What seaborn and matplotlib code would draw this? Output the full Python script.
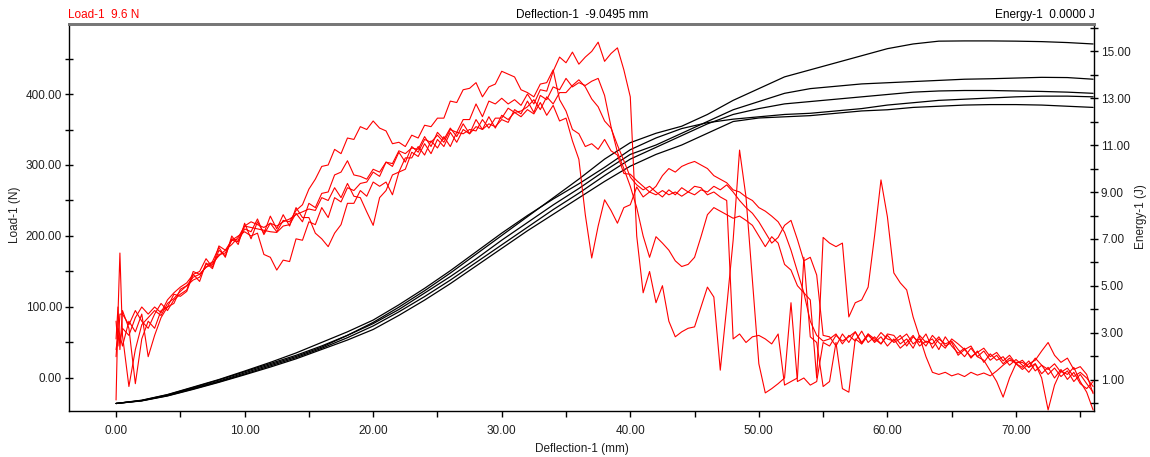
import numpy as np
import pandas as pd
import matplotlib
matplotlib.use("Agg")
import matplotlib.pyplot as plt
from matplotlib.ticker import MultipleLocator, FormatStrFormatter
import seaborn as sns

# ---------------- data ----------------
# deflection grid for the load traces (mm)
DEFL_START = [0.0, 0.15, 0.3]
DEFL_STEP = 0.5
DEFL_END = 76.0

LOAD_1 = [-31, 90, 176,
          60, -12, 40, 75, 85, 95, 88, 105, 112, 122,
          130, 142, 146, 156, 160, 174, 176, 194, 192, 210,
          206, 224, 202, 218, 206, 222, 220, 236, 244, 266,
          280, 298, 300, 322, 316, 338, 336, 354, 350, 362,
          352, 348, 330, 332, 326, 342, 338, 356, 354, 366,
          366, 390, 388, 406, 408, 416, 396, 410, 414, 432,
          428, 424, 406, 402, 396, 414, 416, 434, 392, 376,
          350, 344, 326, 330, 322, 336, 320, 314, 288, 287,
          278, 270, 262, 258, 264, 258, 262, 256, 262, 258,
          265, 262, 270, 265, 272, 262, 250, 240, 232, 220,
          205, 190, 198, 215, 222, 195, 165, 170, 145, 60,
          58, 45, 62, 50, 65, 48, 60, 52, 64, 55,
          52, 60, 45, 58, 50, 62, 42, 55, 48, 52,
          40, 30, 42, 30, 38, 25, 32, 20, 28, 20,
          15, 24, 10, 18, 5, 14, 2, 10, -5, 5,
          -8, -20]

LOAD_2 = [55, 100, 40,
          95, 70, -8, 55, 80, 70, 95, 100, 118, 115,
          122, 146, 136, 162, 154, 180, 172, 196, 194, 214,
          212, 210, 208, 206, 205, 214, 216, 232, 220, 246,
          240, 260, 262, 286, 290, 306, 286, 284, 280, 294,
          290, 304, 302, 320, 316, 324, 322, 340, 326, 346,
          336, 352, 340, 358, 344, 364, 350, 368, 352, 370,
          364, 374, 368, 378, 372, 388, 370, 384, 362, 366,
          334, 308, 230, 169, 214, 251, 236, 218, 240, 244,
          269, 255, 262, 270, 285, 295, 290, 298, 302, 305,
          300, 295, 285, 280, 275, 265, 262, 255, 250, 240,
          235, 228, 220, 205, 180, 150, 120, 80, 60, 52,
          55, 62, 48, 60, 52, 66, 50, 58, 48, 62,
          60, 48, 55, 42, 60, 50, 55, 40, 58, 45,
          35, 42, 28, 38, 22, 34, 25, 30, 18, 26,
          18, 8, 20, 6, 15, 0, 12, -2, 8, -8,
          -15, -5]

LOAD_3 = [30, 70, 60,
          45, 80, 65, 90, 30, 60, 85, 100, 105, 125,
          130, 138, 142, 160, 162, 172, 180, 194, 200, 206,
          200, 204, 174, 170, 152, 166, 164, 196, 194, 220,
          216, 240, 226, 254, 248, 268, 264, 274, 276, 290,
          284, 304, 298, 318, 304, 326, 318, 336, 332, 342,
          332, 350, 346, 364, 364, 386, 368, 390, 386, 394,
          386, 392, 384, 400, 386, 406, 404, 432, 452, 444,
          459, 442, 452, 460, 473, 446, 457, 465, 434, 396,
          200, 120, 150, 106, 130, 80, 58, 65, 70, 72,
          100, 128, 114, 11, 100, 194, 321, 255, 138, 20,
          -21, -15, -8, 0, 106, -5, 0, -10, -5, 50,
          45, 60, 52, 58, 65, 50, 62, 55, 48, 60,
          50, 55, 62, 48, 55, 45, 60, 50, 42, 55,
          48, 40, 45, 30, 25, 10, -5, -27, 0, 20,
          25, 15, 20, 0, -45, -10, 10, 5, 15, -5,
          -20, -45]

LOAD_4 = [80, 45, 90,
          90, 75, 95, 80, 70, 90, 105, 95, 110, 118,
          124, 150, 146, 156, 164, 184, 170, 200, 188, 218,
          196, 220, 204, 228, 210, 230, 214, 240, 226, 226,
          204, 196, 185, 204, 216, 246, 246, 264, 256, 276,
          270, 276, 258, 290, 294, 318, 312, 330, 316, 336,
          326, 346, 332, 350, 344, 354, 350, 358, 354, 364,
          360, 378, 372, 390, 374, 398, 392, 410, 406, 422,
          410, 416, 412, 418, 422, 398, 354, 318, 295, 270,
          240, 200, 170, 199, 190, 180, 165, 157, 160, 170,
          199, 230, 240, 235, 230, 225, 228, 222, 215, 200,
          185, 199, 190, 160, 152, 130, 120, 110, 0, 198,
          190, 185, 190, 86, 106, 110, 128, 200, 279, 227,
          148, 134, 124, 86, 58, 30, 8, 5, 8, 3,
          6, 2, 8, 4, 7, 3, 10, 18, 25, 22,
          22, 15, 28, 18, 12, 20, 8, 14, 2, 8,
          0, -12]

LOAD_5 = [40, 60, 50,
          70, 60, 85, 100, 90, 100, 92, 110, 120, 128,
          134, 146, 150, 168, 156, 186, 180, 188, 198, 214,
          220, 216, 212, 218, 214, 220, 224, 230, 234, 238,
          236, 254, 250, 268, 254, 274, 256, 254, 234, 215,
          254, 264, 286, 290, 310, 310, 326, 314, 334, 324,
          340, 326, 346, 344, 350, 348, 364, 352, 366, 366,
          380, 374, 376, 382, 392, 378, 396, 386, 402, 402,
          412, 420, 410, 393, 382, 362, 352, 328, 306, 283,
          272, 265, 270, 262, 255, 265, 258, 268, 262, 270,
          268, 258, 262, 255, 250, 55, 62, 50, 58, 60,
          55, 48, 62, -10, -5, 0, 170, 58, 50, -12,
          -5, 50, -15, -20, 55, 48, 62, 50, 58, 45,
          55, 42, 50, 60, 45, 52, 48, 58, 45, 50,
          32, 40, 30, 36, 42, 30, 36, 24, 32, 20,
          12, 20, 25, 38, 50, 32, 22, 28, 12, 16,
          5, -22]

# energy traces, sampled every 2 mm
ENERGY_DEFL = [0, 2, 4, 6, 8, 10, 12, 14, 16, 18, 20, 22, 24, 26, 28, 30, 32, 34, 36, 38,
               40, 42, 44, 46, 48, 50, 52, 54, 56, 58, 60, 62, 64, 66, 68, 70, 72, 74, 76]
ENERGY_1 = [0, 0.12, 0.35, 0.65, 0.95, 1.30, 1.65, 2.00, 2.40, 2.90, 3.45, 4.10, 4.80, 5.55,
            6.35, 7.15, 7.95, 8.75, 9.55, 10.40, 11.10, 11.50, 11.80, 12.30, 12.90, 13.40,
            13.90, 14.20, 14.50, 14.80, 15.10, 15.30, 15.42, 15.43, 15.43, 15.42, 15.40,
            15.36, 15.30]
ENERGY_2 = [0, 0.13, 0.37, 0.68, 1.00, 1.35, 1.70, 2.05, 2.45, 2.90, 3.40, 4.00, 4.70, 5.40,
            6.15, 6.95, 7.70, 8.45, 9.15, 9.90, 10.60, 11.00, 11.50, 12.00, 12.50, 12.85,
            13.20, 13.40, 13.50, 13.60, 13.65, 13.70, 13.75, 13.80, 13.82, 13.85, 13.88,
            13.87, 13.80]
ENERGY_3 = [0, 0.12, 0.33, 0.62, 0.92, 1.25, 1.60, 1.95, 2.35, 2.80, 3.30, 3.90, 4.55, 5.25,
            6.00, 6.75, 7.50, 8.25, 8.95, 9.70, 10.40, 10.90, 11.40, 11.90, 12.30, 12.55,
            12.75, 12.85, 12.95, 13.05, 13.15, 13.25, 13.30, 13.32, 13.32, 13.30, 13.28,
            13.25, 13.20]
ENERGY_4 = [0, 0.14, 0.38, 0.70, 1.02, 1.38, 1.75, 2.15, 2.60, 3.05, 3.55, 4.20, 4.90, 5.65,
            6.45, 7.25, 8.00, 8.70, 9.35, 10.05, 10.80, 11.30, 11.70, 11.95, 12.10, 12.20,
            12.30, 12.35, 12.45, 12.55, 12.70, 12.80, 12.90, 12.95, 13.00, 13.05, 13.08,
            13.08, 13.05]
ENERGY_5 = [0, 0.11, 0.32, 0.60, 0.90, 1.22, 1.55, 1.90, 2.30, 2.70, 3.15, 3.75, 4.40, 5.10,
            5.85, 6.60, 7.35, 8.05, 8.75, 9.45, 10.10, 10.60, 11.00, 11.50, 12.00, 12.15,
            12.20, 12.25, 12.35, 12.45, 12.50, 12.60, 12.65, 12.70, 12.72, 12.72, 12.70,
            12.65, 12.60]

X_TICKS = [0, 10, 20, 30, 40, 50, 60, 70]
LOAD_TICKS = [0, 100, 200, 300, 400]
ENERGY_TICKS = [1, 3, 5, 7, 9, 11, 13, 15]

# ---------------- build tables ----------------
defl = np.concatenate([DEFL_START, np.arange(0.5, DEFL_END + 0.01, DEFL_STEP)])
load_curves = [LOAD_1, LOAD_2, LOAD_3, LOAD_4, LOAD_5]
energy_curves = [ENERGY_1, ENERGY_2, ENERGY_3, ENERGY_4, ENERGY_5]

load_df = pd.concat([pd.DataFrame({"defl": defl, "load": np.array(c, float), "run": i})
                     for i, c in enumerate(load_curves)], ignore_index=True)
energy_df = pd.concat([pd.DataFrame({"defl": ENERGY_DEFL, "energy": c, "run": i})
                       for i, c in enumerate(energy_curves)], ignore_index=True)

# ---------------- plot ----------------
sns.set_style("ticks")
plt.rcParams["font.family"] = ["Liberation Sans", "DejaVu Sans"]
plt.rcParams["font.size"] = 8.5

W, H = 1150, 457
fig = plt.figure(figsize=(W / 100, H / 100), dpi=100)
ax = fig.add_axes([69 / W, 46 / H, 1025 / W, 387 / H])
ax2 = ax.twinx()

sns.lineplot(data=energy_df, x="defl", y="energy", units="run", estimator=None,
             sort=False, color="black", lw=0.9, ax=ax2, legend=False)
sns.lineplot(data=load_df, x="defl", y="load", units="run", estimator=None,
             sort=False, color="#ff0000", lw=0.8, ax=ax, legend=False)

ax.set_zorder(ax2.get_zorder() + 1)
ax.patch.set_visible(False)

ax.set_xlim(-3.66, 76.07)
ax.set_ylim(-46.5, 498.6)
ax2.set_ylim(-0.32, 16.15)

ax.set_xticks(X_TICKS)
ax.xaxis.set_minor_locator(MultipleLocator(5))
ax.set_yticks(LOAD_TICKS)
ax.yaxis.set_minor_locator(MultipleLocator(50))
ax2.set_yticks(ENERGY_TICKS)
ax2.yaxis.set_minor_locator(MultipleLocator(2))
ax.xaxis.set_major_formatter(FormatStrFormatter("%.2f"))
ax.yaxis.set_major_formatter(FormatStrFormatter("%.2f"))
ax2.yaxis.set_major_formatter(FormatStrFormatter("%.2f"))

ax.tick_params(axis="x", which="both", direction="out", length=4, width=1,
               colors="black", labelsize=8.5, pad=6)
ax.tick_params(axis="y", which="both", direction="inout", length=6, width=1,
               colors="black", labelsize=8.5, pad=2)
ax2.tick_params(axis="y", which="both", direction="inout", length=6, width=1,
                colors="black", labelsize=8.5, pad=2)
for a in (ax, ax2):
    for t in a.get_xticklabels() + a.get_yticklabels():
        t.set_color("#202020")

ax.set_xlabel("")
ax.set_ylabel("")
ax2.set_ylabel("")

for a in (ax, ax2):
    a.spines["top"].set_visible(True)
    a.spines["top"].set_color("#777777")
    a.spines["top"].set_linewidth(2)
    a.spines["left"].set_color("black")
    a.spines["bottom"].set_color("black")
    a.spines["right"].set_color("black")
    a.spines["left"].set_linewidth(1)
    a.spines["bottom"].set_linewidth(1)
    a.spines["right"].set_linewidth(1)
ax.spines["right"].set_visible(False)
ax2.spines["left"].set_visible(False)
ax2.spines["bottom"].set_visible(False)

# axis titles
fig.text(582 / W, 1 - 449 / H, "Deflection-1 (mm)", color="#202020", fontsize=8.5,
         ha="center", va="center")
fig.text(15 / W, 1 - 215 / H, "Load-1 (N)", color="#202020", fontsize=8.5,
         ha="center", va="center", rotation=90)
fig.text(1141 / W, 1 - 217 / H, "Energy-1 (J)", color="#202020", fontsize=8.5,
         ha="center", va="center", rotation=90)

# header readouts
fig.text(68 / W, 1 - 15 / H, "Load-1  9.6 N", color="#ff0000", fontsize=8.5,
         ha="left", va="center")
fig.text(582 / W, 1 - 15 / H, "Deflection-1  -9.0495 mm", color="black",
         fontsize=8.5, ha="center", va="center")
fig.text(1095 / W, 1 - 15 / H, "Energy-1  0.0000 J", color="black", fontsize=8.5,
         ha="right", va="center")

fig.savefig("out.png", dpi=100)
